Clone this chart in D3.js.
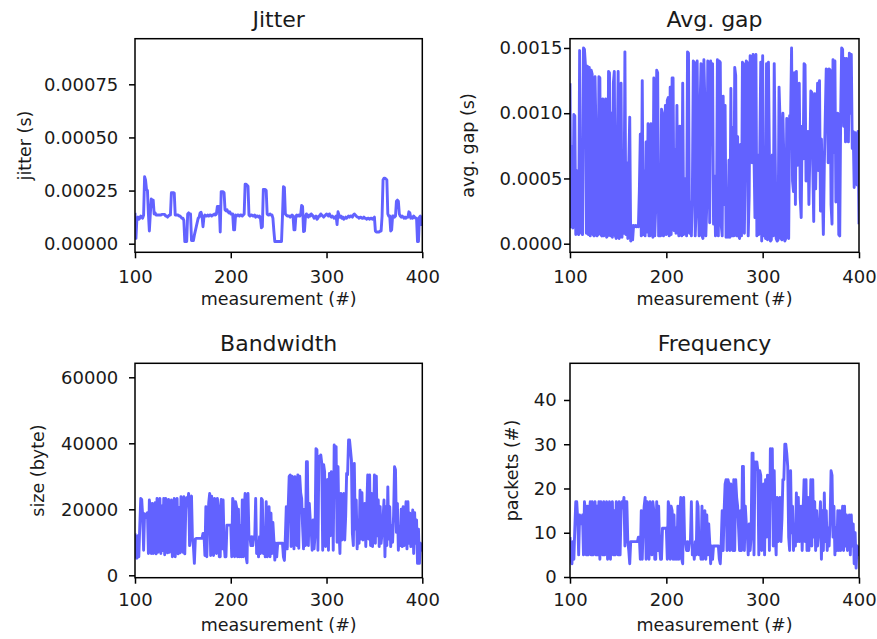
<!DOCTYPE html>
<html><head><meta charset="utf-8">
<script src="https://cdn.jsdelivr.net/npm/d3@7"></script>
<style>
body{margin:0;background:#fff}
svg{display:block}
text{font-family:"DejaVu Sans",sans-serif;fill:#1a1a1a}
</style>
</head><body>
<svg id="chart" width="877" height="639"></svg>
<script>
// measurement index runs 100..400 (one value per measurement)
const measurementFirst = 100;

// Jitter in microseconds
const jitterUs = [
145,25,120,125,115,120,130,125,120,135,
315,300,255,250,140,60,140,210,205,205,
140,145,135,135,135,135,135,135,138,138,
138,138,130,130,125,130,135,135,240,240,
240,238,135,135,135,135,130,130,125,120,
120,110,10,10,10,140,145,140,140,15,
15,15,40,60,80,100,120,125,145,148,
130,80,125,135,130,130,135,130,135,135,
130,135,135,140,135,140,175,175,175,55,
245,245,245,240,160,155,160,150,145,150,
140,140,140,65,65,135,130,135,135,130,
135,135,130,135,140,280,280,275,270,135,
130,135,135,130,130,135,125,130,130,125,
130,120,75,80,255,255,255,250,140,135,
135,140,135,135,120,60,10,10,10,10,
10,10,10,10,130,268,265,140,135,130,
130,130,125,130,135,130,65,65,130,135,
130,135,130,135,180,175,57,60,130,140,
130,125,135,130,140,135,130,120,125,130,
115,120,130,130,140,135,130,125,130,135,
140,135,130,140,130,125,130,125,120,125,
130,90,150,135,125,130,120,125,115,120,
125,120,125,130,125,130,130,125,135,140,
135,130,125,125,120,125,125,120,120,125,
120,120,115,120,120,115,120,120,115,120,
125,60,55,55,55,55,60,60,130,300,
308,308,305,300,140,130,130,60,65,130,
130,125,130,200,205,200,140,130,125,130,
125,120,125,120,125,125,150,145,120,125,
120,130,125,120,120,10,10,125,130,90,
130];

// Average gap in microseconds
const avgGapUs = [
1230,130,740,120,990,980,70,560,80,70,
1480,90,80,70,1500,1490,1370,80,1360,70,
1350,60,1330,1300,70,60,1280,840,60,70,
1280,1270,70,60,1110,60,760,1110,50,60,
1320,1310,60,1000,50,1230,1320,60,40,680,
1320,40,60,1230,50,480,80,1470,70,620,
40,600,970,20,140,30,140,130,140,130,
140,130,410,840,60,1250,70,560,60,780,
90,920,60,60,920,300,50,1270,60,280,
1330,1310,60,470,60,1030,1000,60,70,1060,
70,1100,1120,60,1200,70,1270,1270,100,720,
80,1060,110,60,900,200,60,1230,70,500,
250,60,1470,1460,80,320,60,350,1400,1390,
60,280,1400,500,60,1030,1380,60,40,1410,
1080,60,300,1400,1380,160,1400,1050,1380,150,
520,60,140,1410,60,1400,1390,140,60,1130,
300,1060,50,60,50,640,50,1190,60,890,
60,1350,1290,60,820,70,40,760,60,1390,
1380,80,680,1400,1390,60,370,1440,1430,620,
1450,680,200,1450,60,680,70,690,1390,20,
1440,60,680,40,1380,30,1390,670,20,30,
680,60,1380,700,40,20,30,1200,960,40,
30,1000,640,20,40,960,150,40,980,960,
1500,480,400,1310,300,1320,600,1030,1230,350,
200,900,650,1380,1370,480,520,860,300,700,
1170,1160,600,170,1150,420,900,1230,560,1250,
250,800,420,70,600,980,1340,1330,620,1340,
1330,300,150,1410,700,1400,320,640,1000,70,
60,1000,1500,1490,900,1420,780,1420,1100,780,
1460,1000,1450,730,860,430,850,560,450,860,
150];

// Bandwidth in bytes
const bandwidthBytes = [
12700,5600,5200,12000,5600,15000,23300,23000,18000,7600,
18700,17800,17500,19000,6600,22800,20000,6600,21800,6600,
19000,22000,6500,23300,7000,20000,23300,6600,21000,7500,
23300,6200,23300,18000,6800,23000,7000,20000,22800,5600,
18000,23300,5600,20000,23300,6500,20500,6800,23800,16000,
7000,23800,6500,20000,23500,22000,24800,9000,22800,24000,
10700,8700,3600,11000,11200,11200,11200,11200,11200,11200,
11200,12700,12700,6000,20800,5600,16000,22000,24800,6000,
24000,19000,6000,23300,15000,6600,23300,20800,5600,5600,
23000,8000,22800,9700,5600,5600,15200,15200,15200,15200,
15200,5600,23300,22000,5600,22300,20800,5600,20000,5600,
15000,5600,22800,5600,20000,24800,5600,3800,24800,11700,
11700,9000,11700,9000,11700,11000,23300,6600,9700,5600,
11700,6600,23300,22800,6600,11000,5600,22300,5600,11000,
20800,5600,18800,6600,16000,10700,4600,9700,5600,9700,
9700,9700,9700,9700,9700,5600,4500,11700,20800,8000,
20800,30000,30400,8700,30000,29500,8000,29900,27500,9000,
30400,8200,30000,25000,23300,14700,8000,20000,9000,34400,
34400,9000,21800,16800,13700,7600,16800,8000,12000,38400,
38000,7600,36000,34900,36500,34000,7600,33500,31400,8700,
28000,29000,7600,30900,12000,31400,30500,7600,39500,37000,
39000,10000,32900,14000,6600,24800,10700,22000,24800,10700,
18000,30900,30500,41000,41000,38000,34900,12700,9000,33900,
14000,22800,8000,16800,9700,25800,11000,25000,10700,14000,
21800,8700,20000,30400,11000,30400,9000,24800,8700,15000,
30400,9700,30000,12000,22800,8700,20800,9700,13000,16800,
22800,5600,20800,9000,26800,11000,20800,8700,15000,10000,
18000,32900,32000,13000,21800,7600,14700,9000,20000,8700,
20800,9000,15000,22300,8000,22300,9700,18800,8700,14000,
19800,6600,19000,9700,16800,3600,14000,3600,9700,7600,
9700];

// Frequency in packets
const frequencyPackets = [
9,4,3,8,4,11,17,17,13,5,
14,13,12,14,5,17,15,5,16,5,
14,17,5,17,5,15,17,5,16,5,
17,4,17,13,5,17,5,15,17,4,
13,17,4,15,17,5,15,5,17,12,
5,17,5,15,17,16,18,7,17,17,
8,6,3,8,8,8,8,8,8,8,
8,9,9,4,15,4,12,16,18,4,
17,14,4,17,11,5,17,15,4,4,
17,6,16,7,4,4,11,11,11,11,
11,4,17,16,4,16,15,4,14,4,
11,4,16,4,14,18,4,3,18,8,
8,6,8,6,8,8,17,5,7,4,
8,5,17,16,5,8,4,16,4,8,
15,4,14,5,12,8,3,7,4,7,
7,7,7,7,7,4,3,8,15,6,
15,21,22,6,22,21,6,21,20,6,
22,6,22,18,16,11,6,15,6,25,
25,6,16,12,10,5,12,6,9,28,
28,5,26,25,26,24,5,24,23,6,
20,21,5,22,9,23,22,6,29,27,
29,7,24,10,5,18,8,16,18,8,
13,22,22,30,30,28,25,9,6,24,
10,16,6,12,7,19,8,18,8,10,
16,6,15,22,8,22,6,18,6,11,
22,7,22,9,17,6,15,7,10,12,
17,4,15,6,19,8,15,6,11,7,
13,24,23,9,16,5,11,6,15,6,
15,6,11,16,6,16,7,14,6,10,
14,5,14,7,12,3,10,2,7,5,
7];

const xTicks = [100, 200, 300, 400];
const jitterTicks = [0, 0.00025, 0.0005, 0.00075];
const jitterTickLabels = ["0.00000", "0.00025", "0.00050", "0.00075"];
const gapTicks = [0, 0.0005, 0.001, 0.0015];
const gapTickLabels = ["0.0000", "0.0005", "0.0010", "0.0015"];
const bandwidthTicks = [0, 20000, 40000, 60000];
const bandwidthTickLabels = ["0", "20000", "40000", "60000"];
const frequencyTicks = [0, 10, 20, 30, 40];
const frequencyTickLabels = ["0", "10", "20", "30", "40"];
const titles = ["Jitter", "Avg. gap", "Bandwidth", "Frequency"];
const yLabels = ["jitter (s)", "avg. gap (s)", "size (byte)", "packets (#)"];
const xLabel = "measurement (#)";

const panels = [
  {title: titles[0], ylabel: yLabels[0], values: jitterUs.map(v => v * 1e-6),
   yDomain: [-0.0000405, 0.0009646], ticks: jitterTicks, tickLabels: jitterTickLabels,
   box: {l: 135, r: 422.3, t: 38.7, b: 252.3}, yPad: 10.7, xTickBase: 30.4, ylabelX: 31, titleY: 27, xLabelY: 305},
  {title: titles[1], ylabel: yLabels[1], values: avgGapUs.map(v => v * 1e-6),
   yDomain: [-0.0000659, 0.001571], ticks: gapTicks, tickLabels: gapTickLabels,
   box: {l: 570, r: 859, t: 38.7, b: 252.3}, yPad: 1.5, xTickBase: 30.4, ylabelX: 474, titleY: 27, xLabelY: 305},
  {title: titles[2], ylabel: yLabels[2], values: bandwidthBytes,
   yDomain: [-727, 64242], ticks: bandwidthTicks, tickLabels: bandwidthTickLabels,
   box: {l: 135, r: 422.3, t: 363.3, b: 577.7}, yPad: 10.7, xTickBase: 28.3, ylabelX: 44, titleY: 351, xLabelY: 631},
  {title: titles[3], ylabel: yLabels[3], values: frequencyPackets,
   yDomain: [-0.16, 48.29], ticks: frequencyTicks, tickLabels: frequencyTickLabels,
   box: {l: 570, r: 859, t: 363.3, b: 577.7}, yPad: 7.3, xTickBase: 28.3, ylabelX: 517.5, titleY: 351, xLabelY: 631}
];

const svg = d3.select("#chart");
const tickFont = 18, labelFont = 17.5, titleFont = 22, tickLen = 6;

panels.forEach((p, k) => {
  const b = p.box;
  const x = d3.scaleLinear().domain([100, 400]).range([b.l, b.r]);
  const y = d3.scaleLinear().domain(p.yDomain).range([b.b, b.t]);
  const g = svg.append("g");
  const clipId = "clip" + k;
  svg.append("clipPath").attr("id", clipId).append("rect")
    .attr("x", b.l).attr("y", b.t).attr("width", b.r - b.l).attr("height", b.b - b.t);

  const data = p.values.map((v, i) => ({m: measurementFirst + i, v}));
  const line = d3.line().x(d => x(d.m)).y(d => y(d.v));
  g.append("path").datum(data).attr("d", line)
    .attr("clip-path", `url(#${clipId})`)
    .attr("fill", "none").attr("stroke", "#6262ff")
    .attr("stroke-width", 2.9).attr("stroke-linejoin", "round");

  // frame
  g.append("rect").attr("x", b.l).attr("y", b.t).attr("width", b.r - b.l).attr("height", b.b - b.t)
    .attr("fill", "none").attr("stroke", "#000").attr("stroke-width", 1.5);

  // x axis
  const xa = g.append("g").attr("transform", `translate(0,${b.b})`)
    .call(d3.axisBottom(x).tickValues(xTicks).tickSize(tickLen).tickSizeOuter(0)
      .tickPadding(p.xTickBase - tickLen - 0.71 * tickFont).tickFormat(d3.format("d")));
  xa.select(".domain").remove();
  xa.selectAll("line").attr("stroke", "#000").attr("stroke-width", 1.5);
  xa.selectAll("text").attr("font-size", tickFont).attr("font-family", "DejaVu Sans").attr("fill", "#1a1a1a");

  // y axis
  const ya = g.append("g").attr("transform", `translate(${b.l},0)`)
    .call(d3.axisLeft(y).tickValues(p.ticks).tickSize(tickLen).tickSizeOuter(0)
      .tickPadding(p.yPad).tickFormat((d, i) => p.tickLabels[i]));
  ya.select(".domain").remove();
  ya.selectAll("line").attr("stroke", "#000").attr("stroke-width", 1.5);
  ya.selectAll("text").attr("font-size", tickFont).attr("font-family", "DejaVu Sans").attr("fill", "#1a1a1a");

  // title
  g.append("text").attr("x", (b.l + b.r) / 2).attr("y", p.titleY)
    .attr("text-anchor", "middle").attr("font-size", titleFont).text(p.title);
  // x label
  g.append("text").attr("x", (b.l + b.r) / 2).attr("y", p.xLabelY)
    .attr("text-anchor", "middle").attr("font-size", labelFont).text(xLabel);
  // y label
  g.append("text").attr("transform", `translate(${p.ylabelX},${(b.t + b.b) / 2}) rotate(-90)`)
    .attr("text-anchor", "middle").attr("font-size", labelFont).text(p.ylabel);
});
</script>
</body></html>
